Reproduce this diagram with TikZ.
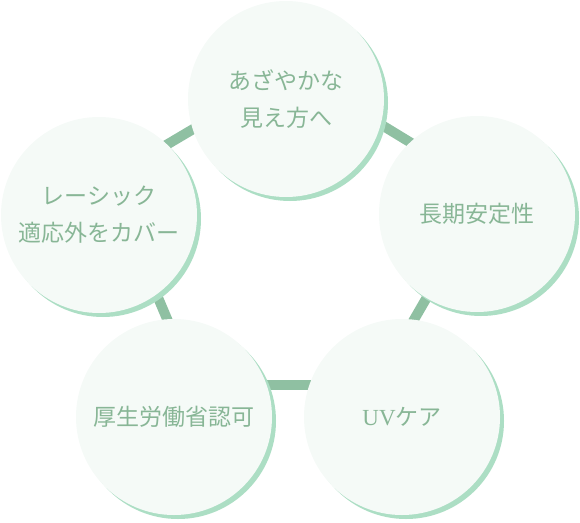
\documentclass[tikz,border=0pt]{standalone}
\usepackage{fontspec}
\newfontfamily\jp{Noto Sans CJK JP}
\newfontfamily\latinserif{Liberation Serif}
\usetikzlibrary{shadows,backgrounds}
\definecolor{fondo}{RGB}{245,250,247}
\definecolor{sombra}{RGB}{172,222,196}
\definecolor{linea}{RGB}{143,192,162}
\definecolor{texto}{RGB}{136,182,150}

\begin{document}
\begin{tikzpicture}[x=1pt,y=-1pt,
circulo/.style={circle,fill=fondo,minimum size=196pt,inner sep=0pt,outer sep=0pt,align=center,text=texto,font=\jp\fontsize{23pt}{37pt}\selectfont,
  drop shadow={shadow xshift=4pt,shadow yshift=-4pt,fill=sombra,draw=none,opacity=1}},
barra/.style={draw=linea,line width=10pt,shorten <=-6pt,shorten >=-6pt}
]
\useasboundingbox (0,0) rectangle (580,522);

\node[circulo] (nitidez) at (286,99) {あざやかな\\見え方へ};
\node[circulo] (estabilidad) at (477,214) {長期安定性};
\node[circulo] (lasik) at (99,215) {レーシック\\適応外をカバー};
\node[circulo] (aprobacion) at (174,417) {厚生労働省認可};
\node[circulo] (uv) at (402,417) {{\latinserif UV}ケア};

\begin{scope}[on background layer]
\draw[barra] (lasik.46) -- (nitidez.198);
\draw[barra] (nitidez.345) -- (estabilidad.133);
\draw[barra] (estabilidad.239) -- (uv.83);
\draw[barra] (uv.161) -- (aprobacion.19);
\draw[barra] (aprobacion.94) -- (lasik.306);
\end{scope}
\end{tikzpicture}
\end{document}
